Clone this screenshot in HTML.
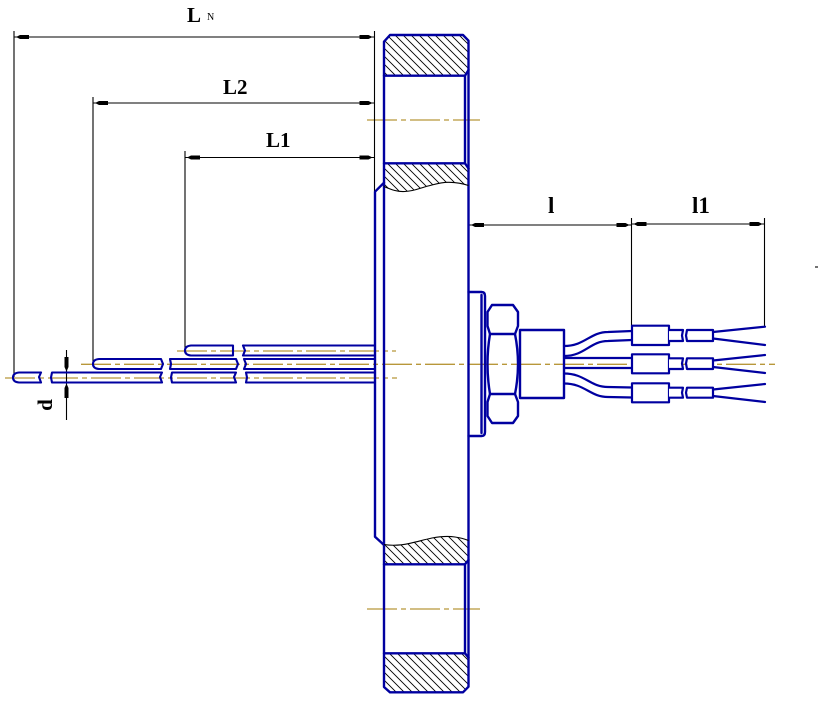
<!DOCTYPE html>
<html>
<head>
<meta charset="utf-8">
<style>
  html,body{margin:0;padding:0;background:#fff;}
  svg{display:block;}
  .b{fill:none;stroke:#0000a0;stroke-width:2.4;stroke-linejoin:round;stroke-linecap:round;}
  .bw{fill:#fff;stroke:#0000a0;stroke-width:2.2;stroke-linejoin:round;}
  .k{fill:none;stroke:#000;stroke-width:1.1;}
  .c{fill:none;stroke:#b8973a;stroke-width:1.3;stroke-dasharray:30 4 5 4;}
  .a{fill:#000;stroke:none;}
  .t{font-family:"Liberation Serif",serif;font-weight:bold;fill:#000;}
</style>
</head>
<body>
<svg width="828" height="706" viewBox="0 0 828 706" xmlns="http://www.w3.org/2000/svg">
  <defs>
    <pattern id="h" width="8" height="8" patternUnits="userSpaceOnUse">
      <path d="M0,0 L8,8 M-1,7 L1,9 M7,-1 L9,1" stroke="#000" stroke-width="0.9" fill="none"/>
    </pattern>
  </defs>
  <rect width="828" height="706" fill="#fff"/>

  <!-- ===== center lines ===== -->
  <line class="c" x1="81" y1="364.3" x2="775" y2="364.3"/>
  <line class="c" x1="5" y1="378" x2="397" y2="378"/>
  <line class="c" x1="177" y1="351" x2="396" y2="351"/>
  <line class="c" x1="367" y1="120" x2="480" y2="120"/>
  <line class="c" x1="367" y1="609" x2="480" y2="609"/>

  <!-- ===== dimension extension lines ===== -->
  <line class="k" x1="14" y1="31" x2="14" y2="377"/>
  <line class="k" x1="93" y1="97" x2="93" y2="364"/>
  <line class="k" x1="185" y1="151" x2="185" y2="351"/>
  <line class="k" x1="374.5" y1="31" x2="374.5" y2="191"/>
  <line class="k" x1="631.5" y1="218" x2="631.5" y2="326"/>
  <line class="k" x1="764.5" y1="218" x2="764.5" y2="327"/>

  <!-- dimension lines -->
  <line class="k" x1="14" y1="37" x2="374.5" y2="37"/>
  <line class="k" x1="93" y1="103" x2="374.5" y2="103"/>
  <line class="k" x1="185" y1="157.5" x2="374.5" y2="157.5"/>
  <line class="k" x1="469" y1="225" x2="631.5" y2="225"/>
  <line class="k" x1="631.5" y1="224" x2="764.5" y2="224"/>
  <line class="k" x1="66.5" y1="350" x2="66.5" y2="420"/>
  <line class="k" x1="815" y1="267" x2="818" y2="267"/>

  <!-- arrowheads (left-pointing at left, right-pointing at right) -->
  <g class="a">
    <polygon points="16,37 20,35 29,35 29,39 20,39"/>
    <polygon points="372.5,37 368.5,35 359.5,35 359.5,39 368.5,39"/>
    <polygon points="95,103 99,101 108,101 108,105 99,105"/>
    <polygon points="372.5,103 368.5,101 359.5,101 359.5,105 368.5,105"/>
    <polygon points="187,157.5 191,155.5 200,155.5 200,159.5 191,159.5"/>
    <polygon points="372.5,157.5 368.5,155.5 359.5,155.5 359.5,159.5 368.5,159.5"/>
    <polygon points="471,225 475,223 484,223 484,227 475,227"/>
    <polygon points="629.5,225 625.5,223 616.5,223 616.5,227 625.5,227"/>
    <polygon points="633.5,224 637.5,222 646.5,222 646.5,226 637.5,226"/>
    <polygon points="762.5,224 758.5,222 749.5,222 749.5,226 758.5,226"/>
    <polygon points="66.5,371.5 64.5,367 64.5,357 68.5,357 68.5,367"/>
    <polygon points="66.5,383.5 64.5,388 64.5,398 68.5,398 68.5,388"/>
  </g>

  <!-- ===== labels ===== -->
  <text class="t" x="187" y="22" font-size="21">L</text>
  <text x="207" y="20" font-size="10" font-family="Liberation Serif, serif" fill="#000">N</text>
  <text class="t" x="223" y="94" font-size="21">L2</text>
  <text class="t" x="266" y="147" font-size="21">L1</text>
  <text class="t" x="548" y="213" font-size="23">l</text>
  <text class="t" x="692" y="213" font-size="23">l1</text>
  <text class="t" font-size="21" text-anchor="middle" transform="translate(52,405) rotate(-90)">d</text>

  <!-- ===== flange hatching ===== -->
  <path fill="url(#h)" d="M384,41.7 L390,35 L463,35 L468.5,40.7 L468.5,70 L465,75.7 L384,75.7 Z"/>
  <path fill="url(#h)" d="M384,163.3 L465,163.3 L468.5,168.5 L468.5,185.5 C464,184 458,182.5 449,182.3 C442,182 436,184 428,186 C420,188 415,191 405,191.5 C398,192 392,190 384,186.5 Z"/>
  <path fill="url(#h)" d="M384,544.5 C390,545.5 400,545.5 410,543.3 C418,541.5 425,539.5 432,538 C440,536.5 448,536 455,537 C462,538 466,539.5 468.5,540.5 L468.5,560 L465,564.3 L384,564.3 Z"/>
  <path fill="url(#h)" d="M384,653.3 L465,653.3 L468.5,657.7 L468.5,686.7 L463,692.3 L390,692.3 L384,687 Z"/>

  <!-- ===== flange outline ===== -->
  <path class="b" d="M384,41.7 L390,35 L463,35 L468.5,40.7 L468.5,686.7 L463,692.3 L390,692.3 L384,687 Z"/>
  <path class="b" d="M468.5,70 L465,75.7 L465,163.3 L468.5,168.5"/>
  <path class="b" d="M468.5,560 L465,564.3 L465,653.3 L468.5,657.7"/>
  <line class="b" x1="384" y1="75.7" x2="465" y2="75.7"/>
  <line class="b" x1="384" y1="163.3" x2="465" y2="163.3"/>
  <line class="b" x1="384" y1="564.3" x2="465" y2="564.3"/>
  <line class="b" x1="384" y1="653.3" x2="465" y2="653.3"/>
  <path class="b" d="M384,182.7 L375,191.7 L375,536.7 L384,545"/>
  <path fill="none" stroke="#000" stroke-width="1.1" d="M384,186.5 C392,190 398,192 405,191.5 C415,191 420,188 428,186 C436,184 442,182 449,182.3 C458,182.5 464,184 468.5,185.5"/>
  <path fill="none" stroke="#000" stroke-width="1.1" d="M384,544.5 C390,545.5 400,545.5 410,543.3 C418,541.5 425,539.5 432,538 C440,536.5 448,536 455,537 C462,538 466,539.5 468.5,540.5"/>

  <!-- ===== probes ===== -->
  <!-- LN probe: y 372.5-382.5 -->
  <g class="b" style="stroke-width:2.1">
    <path d="M41,372.5 L19,372.5 Q13,373 13,377.5 Q13,382 19,382.5 L41,382.5 M41,372.5 L39,377 L41,382.5"/>
    <path d="M52,372.5 L162,372.5 L160,377 L162,382.5 L52,382.5 L51,377.5 Z"/>
    <path d="M172,372.5 L236,372.5 L234,377 L236,382.5 L172,382.5 L171,377.5 Z"/>
    <path d="M246,372.5 L375,372.5 M246,382.5 L375,382.5 M246,372.5 L247,377.5 L246,382.5"/>
    <!-- L2 probe: y 359-369 -->
    <path d="M161,359 L99,359 Q93,359.5 93,364 Q93,368.5 99,369 L161,369 L163,364 Z"/>
    <path d="M170,359 L236,359 L238,364 L236,369 L170,369 L171,364 Z"/>
    <path d="M244,359 L375,359 M244,369 L375,369 M244,359 L246,364 L244,369"/>
    <!-- L1 probe: y 345.5-355.5 -->
    <path d="M233,345.5 L191,345.5 Q185,346 185,350.5 Q185,355 191,355.5 L233,355.5 L233,350.5 Z"/>
    <path d="M243,345.5 L375,345.5 M243,355.5 L375,355.5 M243,345.5 L245,350.5 L243,355.5"/>
  </g>

  <!-- ===== fitting plate ===== -->
  <path class="b" d="M468.5,292 L481.5,292 Q485,292 485,296 L485,432 Q485,436 481.5,436 L468.5,436"/>
  <line class="b" x1="481.5" y1="295" x2="481.5" y2="433"/>

  <!-- ===== hex nut ===== -->
  <path class="b" d="M492,305 L513,305 L518,312 L518,326 L515,334 Q521,364 515,394 L518,402 L518,416 L513,423 L492,423 L487.5,416 L487.5,402 L490,394 Q485,364 490,334 L487.5,326 L487.5,312 Z"/>
  <line class="b" x1="490" y1="334" x2="515" y2="334"/>
  <line class="b" x1="490" y1="394" x2="515" y2="394"/>

  <!-- ===== connector body ===== -->
  <rect class="b" x="520" y="330" width="44" height="68"/>

  <!-- ===== wires ===== -->
  <g class="b" style="stroke-width:2.2">
    <path d="M564,346 C585,346 590,332 608,332 L632,331"/>
    <path d="M564,356 C585,356 590,341 608,341 L632,340"/>
    <path d="M564,358 L632,358"/>
    <path d="M564,368 L632,368"/>
    <path d="M564,373.5 C585,373.5 590,387 608,387 L632,387.5"/>
    <path d="M564,383.5 C585,383.5 590,397 608,397 L632,397.5"/>
  </g>

  <!-- ===== sleeves ===== -->
  <g class="bw">
    <rect x="632" y="325.7" width="37" height="19.3"/>
    <rect x="632" y="354.3" width="37" height="19"/>
    <rect x="632" y="383.3" width="37" height="19"/>
    <path d="M669,330 L683,330 L682,335.5 L683,341 L669,341"/>
    <path d="M669,358.3 L683,358.3 L682,363.5 L683,369 L669,369"/>
    <path d="M669,387.7 L683,387.7 L682,392.7 L683,397.7 L669,397.7"/>
    <path d="M713,330 L687,330 L686,335.5 L687,341 L713,341 Z"/>
    <path d="M713,358.3 L687,358.3 L686,363.5 L687,369 L713,369 Z"/>
    <path d="M713,387.7 L687,387.7 L686,392.7 L687,397.7 L713,397.7 Z"/>
  </g>

  <!-- ===== wire ends ===== -->
  <g class="b" style="stroke-width:2.2">
    <path d="M713,332 L765,326.7"/>
    <path d="M713,338.5 L765,345"/>
    <path d="M713,360.5 L765,355"/>
    <path d="M713,367 L765,373"/>
    <path d="M713,389.5 L765,384"/>
    <path d="M713,396 L765,402"/>
  </g>
</svg>
</body>
</html>
